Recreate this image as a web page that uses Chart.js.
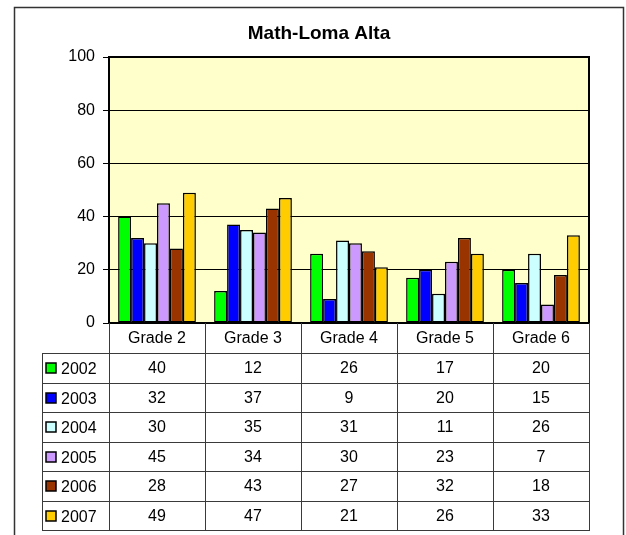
<!DOCTYPE html>
<html><head><meta charset="utf-8">
<script src="https://cdn.jsdelivr.net/npm/chart.js@4/dist/chart.umd.min.js"></script>
<style>html,body{margin:0;padding:0;background:#fff;}#wrap{position:absolute;left:0;top:0;width:626px;height:535px;}</style>
</head><body><div id="wrap"><canvas id="c" width="626" height="535"></canvas></div>
<script>
const chartTitle = 'Math-Loma Alta';
const categories = ['Grade 2', 'Grade 3', 'Grade 4', 'Grade 5', 'Grade 6'];
const seriesNames = ['2002', '2003', '2004', '2005', '2006', '2007'];
const s2002 = [40, 12, 26, 17, 20];
const s2003 = [32, 37, 9, 20, 15];
const s2004 = [30, 35, 31, 11, 26];
const s2005 = [45, 34, 30, 23, 7];
const s2006 = [28, 43, 27, 32, 18];
const s2007 = [49, 47, 21, 26, 33];
const seriesValues = [s2002, s2003, s2004, s2005, s2006, s2007];
const seriesColors = ['#00FF00', '#0000FF', '#CCFFFF', '#CC99FF', '#993300', '#FFCC00'];
const yMin = 0, yMax = 100, yStep = 20;

const FONT = "'Liberation Sans', Arial, Helvetica, sans-serif";
const TABLE_BOTTOM_PAD = 212;
const HEADER_H = 30;
const ROW_H = 29.5;
const LEGEND_LEFT = 42;

const framePlugin = {
  id: 'frame',
  beforeDraw(chart) {
    const ctx = chart.ctx, a = chart.chartArea;
    ctx.save();
    ctx.fillStyle = '#fff';
    ctx.fillRect(0, 0, chart.width, chart.height);
    ctx.fillStyle = '#FFFFCC';
    ctx.fillRect(a.left, a.top, a.right - a.left, a.bottom - a.top);
    ctx.strokeStyle = '#333';
    ctx.lineWidth = 1.5;
    ctx.strokeRect(14.5, 7.5, 609, 560);
    ctx.restore();
  },
  afterDatasetsDraw(chart) {
    const ctx = chart.ctx, a = chart.chartArea;
    ctx.save();
    ctx.strokeStyle = '#000';
    ctx.lineWidth = 2;
    ctx.strokeRect(a.left, a.top, a.right - a.left, a.bottom - a.top);
    ctx.restore();
  },
  afterDraw(chart) {
    const ctx = chart.ctx, a = chart.chartArea;
    const xs = chart.scales.x;
    const n = categories.length;
    const half = (xs.getPixelForValue(1) - xs.getPixelForValue(0)) / 2;
    const bounds = [];
    for (let j = 0; j < n; j++) bounds.push(xs.getPixelForValue(j) - half);
    bounds.push(xs.getPixelForValue(n - 1) + half);
    const top = a.bottom;
    const hdrBottom = top + HEADER_H;
    const tableBottom = hdrBottom + ROW_H * seriesNames.length;
    ctx.save();
    ctx.strokeStyle = '#3a3a3a';
    ctx.lineWidth = 1;
    bounds.forEach((x) => {
      const px = Math.round(x) + 0.5;
      ctx.beginPath();
      ctx.moveTo(px, top);
      ctx.lineTo(px, tableBottom);
      ctx.stroke();
    });
    ctx.beginPath();
    ctx.moveTo(LEGEND_LEFT + 0.5, hdrBottom);
    ctx.lineTo(LEGEND_LEFT + 0.5, tableBottom);
    ctx.stroke();
    for (let i = 0; i <= seriesNames.length; i++) {
      const py = Math.round(hdrBottom + i * ROW_H) + 0.5;
      ctx.beginPath();
      ctx.moveTo(LEGEND_LEFT, py);
      ctx.lineTo(Math.round(bounds[n]) + 1, py);
      ctx.stroke();
    }
    ctx.fillStyle = '#000';
    ctx.font = '16px ' + FONT;
    ctx.textAlign = 'center';
    ctx.textBaseline = 'middle';
    categories.forEach((c, j) => {
      ctx.fillText(c, xs.getPixelForValue(j), top + HEADER_H / 2 + 1);
    });
    chart.data.datasets.forEach((ds, i) => {
      const cy = hdrBottom + i * ROW_H + ROW_H / 2 + 1;
      ctx.fillStyle = ds.backgroundColor;
      ctx.fillRect(46, Math.round(cy - 5.5), 10, 10);
      ctx.strokeStyle = '#000';
      ctx.lineWidth = 1.5;
      ctx.strokeRect(46, Math.round(cy - 5.5), 10, 10);
      ctx.fillStyle = '#000';
      ctx.textAlign = 'left';
      ctx.fillText(ds.label, 61, cy + 1);
      ctx.textAlign = 'center';
      ds.data.forEach((v, j) => {
        ctx.fillText(String(v), xs.getPixelForValue(j), cy);
      });
    });
    ctx.restore();
  }
};

new Chart(document.getElementById('c'), {
  type: 'bar',
  data: {
    labels: categories,
    datasets: seriesNames.map((name, i) => ({
      label: name,
      data: seriesValues[i],
      backgroundColor: seriesColors[i],
      borderColor: '#000',
      borderWidth: 1.5,
      borderSkipped: false,
      categoryPercentage: 0.81,
      barPercentage: 1.0
    }))
  },
  options: {
    responsive: false,
    animation: false,
    events: [],
    layout: { padding: { left: 12, right: 0, top: 0, bottom: TABLE_BOTTOM_PAD } },
    plugins: {
      legend: { display: false },
      tooltip: { enabled: false },
      title: {
        display: true,
        text: chartTitle,
        color: '#000',
        font: { family: FONT, size: 19, weight: 'bold' },
        padding: { top: 22.6, bottom: 11.6 }
      }
    },
    scales: {
      x: {
        ticks: { display: false },
        grid: { display: false },
        border: { display: false },
        afterFit(s) { s.height = 0; }
      },
      y: {
        min: yMin,
        max: yMax,
        ticks: { stepSize: yStep, color: '#000', font: { family: FONT, size: 16 }, padding: 8 },
        grid: { color: '#000', lineWidth: 1, tickLength: 6, tickColor: '#000' },
        border: { display: true, color: '#000', width: 2 },
        afterFit(s) { s.width = 97; }
      },
      yRight: {
        position: 'right',
        min: yMin,
        max: yMax,
        ticks: { display: false },
        grid: { display: false, drawOnChartArea: false },
        border: { display: false },
        afterFit(s) { s.width = 37; }
      }
    }
  },
  plugins: [framePlugin]
});
</script>
</body></html>
